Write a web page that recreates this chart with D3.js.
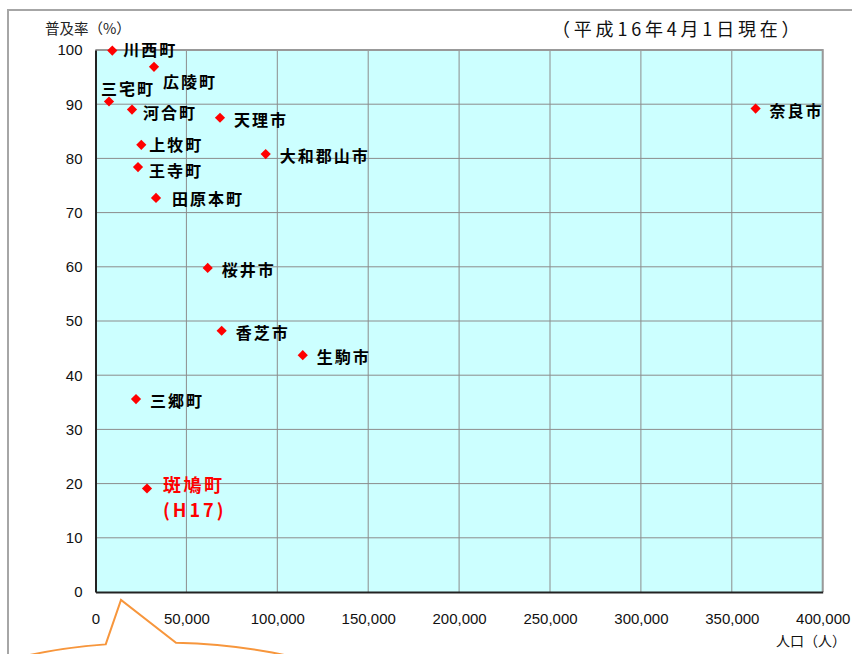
<!DOCTYPE html>
<html lang="ja">
<head>
<meta charset="utf-8">
<script src="https://cdn.jsdelivr.net/npm/d3@7"></script>
<style>
  html, body { margin: 0; padding: 0; background: #fff; }
  svg { display: block; }
  .tick-label { font-family: "Liberation Sans", Arial, sans-serif; font-size: 15px; fill: #111; }
  .cjk { font-family: "Noto Sans CJK JP", "Noto Sans", sans-serif; }
</style>
</head>
<body>
<svg id="chart" width="852" height="654"></svg>
<script>
// 市町村別 普及率と人口
const towns = ["川西町", "広陵町", "三宅町", "河合町", "天理市", "上牧町", "大和郡山市",
               "王寺町", "田原本町", "桜井市", "香芝市", "生駒市", "三郷町", "斑鳩町", "奈良市"];
const population = [9240, 32180, 7430, 20080, 68480, 25190, 93620,
                    23380, 33280, 61720, 69400, 114000, 22280, 28330, 363100];
const rate = [99.9, 96.9, 90.5, 89.0, 87.5, 82.5, 80.8,
              78.4, 72.7, 59.8, 48.2, 43.7, 35.6, 19.1, 89.2];

const xTicks = [0, 50000, 100000, 150000, 200000, 250000, 300000, 350000, 400000];
const yTicks = [0, 10, 20, 30, 40, 50, 60, 70, 80, 90, 100];

const highlightTown = "斑鳩町";
const highlightNote = "(H17)";

// label placement next to each marker (default: to the right)
const labelNudge = {
  "川西町": [11, -1], "広陵町": [9, 15], "三宅町": [-8, -13], "河合町": [11, 3],
  "上牧町": [8, 0], "王寺町": [11, 4], "田原本町": [16, 1], "斑鳩町": [16, -3]
};

const svg = d3.select("#chart");
const x = d3.scaleLinear().domain([0, 400000]).range([95.5, 822.7]);
const y = d3.scaleLinear().domain([0, 100]).range([592, 50]);

// outer frame
svg.append("path")
  .attr("d", "M8,654 L8,10 L852,10")
  .attr("fill", "none").attr("stroke", "#a6a6a6").attr("stroke-width", 2);

// plot area background
svg.append("rect")
  .attr("x", x(0)).attr("y", y(100))
  .attr("width", x(400000) - x(0)).attr("height", y(0) - y(100))
  .attr("fill", "#ccffff");

// grid lines
svg.append("g").selectAll("line").data(yTicks.slice(1)).join("line")
  .attr("x1", x(0)).attr("x2", x(400000))
  .attr("y1", d => y(d)).attr("y2", d => y(d))
  .attr("stroke", "#8c8c8c").attr("stroke-width", 1);
svg.append("g").selectAll("line").data(xTicks.slice(1)).join("line")
  .attr("x1", d => x(d)).attr("x2", d => x(d))
  .attr("y1", y(0)).attr("y2", y(100))
  .attr("stroke", "#8c8c8c").attr("stroke-width", 1);

// plot border (top/right light, left/bottom dark axes)
svg.append("path")
  .attr("d", `M${x(0)},${y(100)} L${x(400000)},${y(100)} L${x(400000)},${y(0)}`)
  .attr("fill", "none").attr("stroke", "#999").attr("stroke-width", 2);

const yAxis = d3.axisLeft(y).tickValues(yTicks).tickSize(0).tickPadding(13);
const gy = svg.append("g").attr("transform", `translate(${x(0)},0)`).call(yAxis);
gy.select(".domain").attr("stroke", "#222").attr("stroke-width", 2);
gy.selectAll("text").attr("class", "tick-label").attr("font-size", null).attr("font-family", null);

const xAxis = d3.axisBottom(x).tickValues(xTicks).tickSize(0).tickPadding(21)
  .tickFormat(d => d === 0 ? "0" : d3.format(",")(d));
const gx = svg.append("g").attr("transform", `translate(0,${y(0)})`).call(xAxis);
gx.select(".domain").attr("stroke", "#222").attr("stroke-width", 2);
gx.selectAll("text").attr("class", "tick-label").attr("font-size", null).attr("font-family", null);

// titles
svg.append("text").attr("class", "cjk")
  .attr("x", 45).attr("y", 33.5).attr("font-size", 14.5).attr("fill", "#222")
  .text("普及率（%）");
svg.append("text").attr("class", "cjk")
  .attr("x", 552).attr("y", 36).attr("font-size", 18).attr("letter-spacing", 3.8).attr("fill", "#111")
  .text("（平成16年4月1日現在）");
svg.append("text").attr("class", "cjk")
  .attr("x", 776).attr("y", 646).attr("font-size", 14).attr("fill", "#111")
  .text("人口（人）");

// markers
const pts = towns.map((t, i) => ({ name: t, pop: population[i], rate: rate[i] }));
svg.append("g").selectAll("path").data(pts).join("path")
  .attr("transform", d => `translate(${x(d.pop)},${y(d.rate)}) rotate(45)`)
  .attr("d", d3.symbol().type(d3.symbolSquare).size(52))
  .attr("fill", "#ff0000");

// labels
const lab = svg.append("g").attr("class", "cjk");
pts.forEach(d => {
  const [dx, dy] = labelNudge[d.name] || [14, 2];
  const hi = d.name === highlightTown;
  const fs = hi ? 18 : 16;
  lab.append("text")
    .attr("x", x(d.pop) + dx)
    .attr("y", y(d.rate) + dy + fs * 0.38)
    .attr("font-size", fs).attr("font-weight", 700)
    .attr("letter-spacing", hi ? 2.5 : 2)
    .attr("fill", hi ? "#ff0000" : "#000")
    .text(d.name);
  if (hi) {
    lab.append("text")
      .attr("x", x(d.pop) + dx)
      .attr("y", y(d.rate) + dy + 25 + fs * 0.38)
      .attr("font-size", fs).attr("font-weight", 700)
      .attr("letter-spacing", 3)
      .attr("fill", "#ff0000")
      .text(highlightNote);
  }
});

// callout balloon below the axis
const cx = 157, cy = 710.5, rx = 220, ry = 68;
const ey = px => cy - ry * Math.sqrt(1 - ((px - cx) / rx) ** 2);
const leftX = 105.7, rightX = 176;
svg.append("path")
  .attr("d", `M${leftX},${ey(leftX)} L121,600 L${rightX},${ey(rightX)} ` +
             `A${rx},${ry} 0 1 1 ${leftX},${ey(leftX)} Z`)
  .attr("fill", "#fff").attr("stroke", "#f7963c").attr("stroke-width", 2);
</script>
</body>
</html>
